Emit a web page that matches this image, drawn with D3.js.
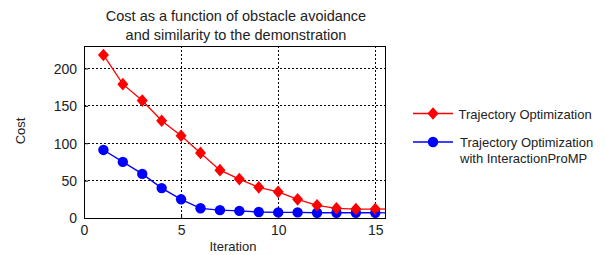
<!DOCTYPE html>
<html><head><meta charset="utf-8">
<script src="https://cdn.jsdelivr.net/npm/d3@7"></script>
<style>body{margin:0;background:#fff}svg{display:block}text{font-family:"Liberation Sans",Arial,sans-serif;fill:#222}</style>
</head><body>
<script>
const iterations = [1,2,3,4,5,6,7,8,9,10,11,12,13,14,15];
const trajOpt = [218,179,157,130,110,87,64,52,41,35,25,17,13,12,12];
const trajOptProMP = [91,75,59,40,25,13,10.5,9.5,8,7.5,7.5,7,7,7,7];
const xTicks = [0,5,10,15];
const yTicks = [0,50,100,150,200];
const titleLines = ["Cost as a function of obstacle avoidance","and similarity to the demonstration"];
const seriesNames = ["Trajectory Optimization",["Trajectory Optimization","with InteractionProMP"]];

const W=606,H=255;
const svg=d3.select("body").append("svg").attr("width",W).attr("height",H);
const L=84,R=385,T=46,B=218;
const x=d3.scaleLinear().domain([0,15.5]).range([L,R]);
const y=d3.scaleLinear().domain([0,230]).range([B,T]);

// grid
const g=svg.append("g");
g.selectAll(".gx").data(xTicks.filter(d=>d>0)).enter().append("line")
 .attr("x1",d=>x(d)).attr("x2",d=>x(d)).attr("y1",T).attr("y2",B)
 .attr("stroke","#000").attr("stroke-width",1).attr("stroke-dasharray","2,2").attr("shape-rendering","crispEdges");
g.selectAll(".gy").data(yTicks.filter(d=>d>0)).enter().append("line")
 .attr("x1",L).attr("x2",R).attr("y1",d=>y(d)).attr("y2",d=>y(d))
 .attr("stroke","#000").attr("stroke-width",1).attr("stroke-dasharray","2,2").attr("shape-rendering","crispEdges");

// axes
const xAxis=d3.axisBottom(x).tickValues(xTicks).tickSizeInner(-4).tickSizeOuter(0).tickPadding(7);
const yAxis=d3.axisLeft(y).tickValues(yTicks).tickSizeInner(-4).tickSizeOuter(0).tickPadding(7);
const gx=svg.append("g").attr("transform",`translate(0,${B})`).call(xAxis);
const gy=svg.append("g").attr("transform",`translate(${L},0)`).call(yAxis);
[gx,gy].forEach(a=>{a.select(".domain").remove();a.selectAll("line").attr("stroke","#000");a.selectAll("text").attr("font-size",14).attr("font-family","Liberation Sans, Arial, sans-serif").attr("fill","#222");});
gy.selectAll("text").attr("dy","0.35em");
svg.append("rect").attr("x",L).attr("y",T).attr("width",R-L).attr("height",B-T)
 .attr("fill","none").attr("stroke","#000").attr("stroke-width",1).attr("shape-rendering","crispEdges");

// lines
const line=d3.line().x((d,i)=>x(iterations[i])).y(d=>y(d));
const diamond=(cx,cy,s)=>`M${cx},${cy-s*1.15}L${cx+s},${cy}L${cx},${cy+s*1.15}L${cx-s},${cy}Z`;

svg.append("path").datum(trajOptProMP).attr("d",line).attr("fill","none").attr("stroke","#0000ff").attr("stroke-width",1.3);
svg.append("g").selectAll("circle").data(trajOptProMP).enter().append("circle")
 .attr("cx",(d,i)=>x(iterations[i])).attr("cy",d=>y(d)).attr("r",5.2).attr("fill","#0000ff");
svg.append("path").datum(trajOpt).attr("d",line).attr("fill","none").attr("stroke","#ff0000").attr("stroke-width",1.3);
svg.append("g").selectAll("path").data(trajOpt).enter().append("path")
 .attr("d",(d,i)=>diamond(x(iterations[i]),y(d),5.5)).attr("fill","#ff0000");

svg.append("line").attr("x1",x(15)).attr("x2",R).attr("y1",y(trajOpt[14])).attr("y2",y(trajOpt[14])).attr("stroke","#ff0000").attr("stroke-width",1.3);
svg.append("line").attr("x1",x(15)).attr("x2",R).attr("y1",y(trajOptProMP[14])).attr("y2",y(trajOptProMP[14])).attr("stroke","#0000ff").attr("stroke-width",1.3);

// title
svg.append("text").attr("x",236).attr("y",21).attr("text-anchor","middle").attr("font-size",14.5).text(titleLines[0]);
svg.append("text").attr("x",236).attr("y",39.5).attr("text-anchor","middle").attr("font-size",14.5).text(titleLines[1]);
// axis labels
svg.append("text").attr("x",233).attr("y",251).attr("text-anchor","middle").attr("font-size",13).text("Iteration");
svg.append("text").attr("transform","translate(25,131) rotate(-90)").attr("text-anchor","middle").attr("font-size",13).text("Cost");

// legend
const lg=svg.append("g");
lg.append("line").attr("x1",413).attr("x2",453).attr("y1",113.5).attr("y2",113.5).attr("stroke","#ff0000").attr("stroke-width",1.3);
lg.append("path").attr("d",diamond(433,113.5,5.5)).attr("fill","#ff0000");
lg.append("text").attr("x",458.5).attr("y",118.5).attr("font-size",13).text(seriesNames[0]);
lg.append("line").attr("x1",413).attr("x2",453).attr("y1",142).attr("y2",142).attr("stroke","#0000ff").attr("stroke-width",1.3);
lg.append("circle").attr("cx",433).attr("cy",142).attr("r",5.2).attr("fill","#0000ff");
lg.append("text").attr("x",460).attr("y",146.5).attr("font-size",13).text(seriesNames[1][0]);
lg.append("text").attr("x",460).attr("y",162.5).attr("font-size",13).text(seriesNames[1][1]);
</script>
</body></html>
